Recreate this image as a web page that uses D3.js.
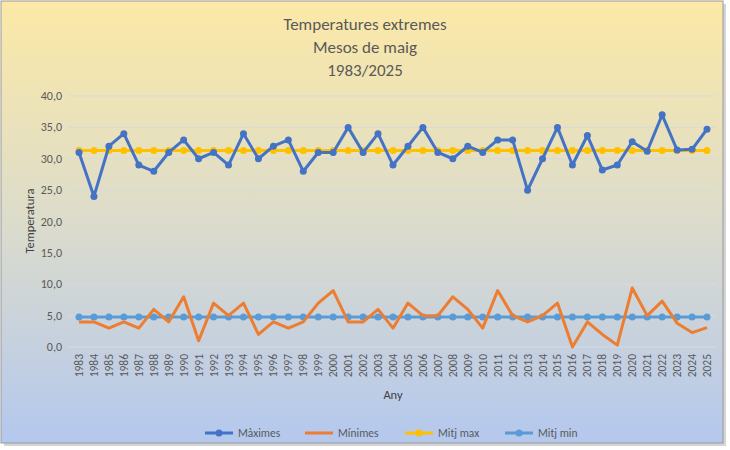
<!DOCTYPE html><html><head><meta charset="utf-8"><script src="https://cdn.jsdelivr.net/npm/d3@7"></script>
<style>body{margin:0;background:#fff}text{font-family:Calibri,Carlito,"Liberation Sans",sans-serif}</style></head><body><svg id="c" width="730" height="450"></svg><script>
const years=d3.range(1983,2026).map(String);
const maxims=[31,24,32,34,29,28,31,33,30,31,29,34,30,32,33,28,31,31,35,31,34,29,32,35,31,30,32,31,33,33,25,30,35,29,33.7,28.2,29,32.7,31.2,37,31.4,31.5,34.7];
const minims=[4,4,3,4,3,6,4,8,1,7,5,7,2,4,3,4,7,9,4,4,6,3,7,5,5,8,6,3,9,5,4,5,7,0,4,2,0.3,9.4,5,7.3,3.8,2.3,3.1];
const mitjMax=years.map(()=>31.3), mitjMin=years.map(()=>4.8);
const yTicks=[0,5,10,15,20,25,30,35,40];
const svg=d3.select("#c");
const defs=svg.append("defs");
const g=defs.append("linearGradient").attr("id","bg").attr("x1",0).attr("y1",0).attr("x2",0).attr("y2",1);
g.append("stop").attr("offset","0%").attr("stop-color","#fce9a6");
g.append("stop").attr("offset","50%").attr("stop-color","#dcdccc");
g.append("stop").attr("offset","100%").attr("stop-color","#b4c8ee");
svg.append("rect").attr("x",4).attr("y",4).attr("width",722).attr("height",442).attr("fill","#aaa").attr("opacity",0.5);
svg.append("rect").attr("x",1).attr("y",1).attr("width",722).attr("height",442).attr("fill","url(#bg)").attr("stroke","#999");
const x=d3.scalePoint().domain(years).range([79,707]);
const y=d3.scaleLinear().domain([0,40]).range([347,96]);
svg.append("g").selectAll("line").data(yTicks).join("line").attr("x1",68).attr("x2",716).attr("y1",d=>y(d)).attr("y2",d=>y(d)).attr("stroke","#d9d9d9").attr("stroke-width",1);
svg.append("g").selectAll("text").data(yTicks).join("text").attr("x",62).attr("y",d=>y(d)+4).attr("text-anchor","end").attr("font-size",12).attr("fill","#595959").text(d=>d.toFixed(1).replace(".",","));
svg.append("g").selectAll("text").data(years).join("text").attr("transform",d=>`translate(${x(d)+4},354) rotate(-90)`).attr("text-anchor","end").attr("font-size",11.5).attr("fill","#595959").text(d=>d);
["Temperatures  extremes","Mesos de maig","1983/2025"].forEach((t,i)=>svg.append("text").attr("x",365).attr("y",30+i*23).attr("text-anchor","middle").attr("font-size",17).attr("fill","#595959").text(t));
svg.append("text").attr("transform","translate(34,221) rotate(-90)").attr("text-anchor","middle").attr("font-size",12.5).attr("fill","#404040").text("Temperatura");
svg.append("text").attr("x",393).attr("y",399).attr("text-anchor","middle").attr("font-size",12.5).attr("fill","#404040").text("Any");
const series=[{n:"Màximes",v:maxims,c:"#4472c4",m:true},{n:"Mínimes",v:minims,c:"#ed7d31",m:false},{n:"Mitj max",v:mitjMax,c:"#ffc000",m:true},{n:"Mitj min",v:mitjMin,c:"#5b9bd5",m:true}];
const line=d3.line().x((d,i)=>x(years[i])).y(d=>y(d));
[2,3,0,1].forEach(k=>{const s=series[k];
 svg.append("path").attr("d",line(s.v)).attr("fill","none").attr("stroke",s.c).attr("stroke-width",3).attr("stroke-linejoin","round");
 if(s.m) svg.append("g").selectAll("circle").data(s.v).join("circle").attr("cx",(d,i)=>x(years[i])).attr("cy",d=>y(d)).attr("r",3.5).attr("fill",s.c);
});
const lx=[205,305,405,505];
series.forEach((s,i)=>{const gg=svg.append("g").attr("transform",`translate(${lx[i]},433)`);
 gg.append("line").attr("x1",0).attr("x2",28).attr("stroke",s.c).attr("stroke-width",3);
 if(s.m) gg.append("circle").attr("cx",14).attr("r",3.5).attr("fill",s.c);
 gg.append("text").attr("x",33).attr("y",4).attr("font-size",11.5).attr("fill","#595959").text(s.n);});
</script></body></html>
